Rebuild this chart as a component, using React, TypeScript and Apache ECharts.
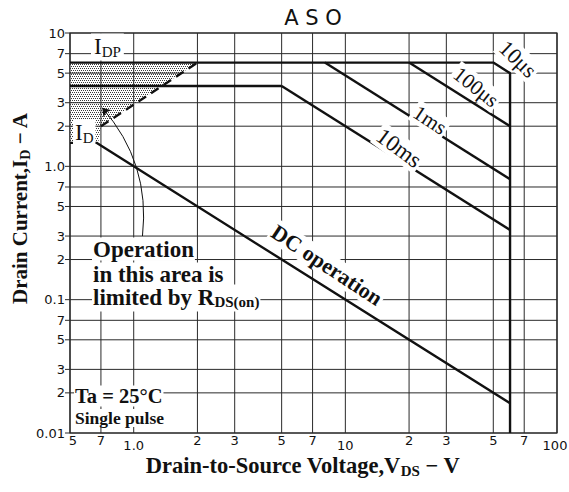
import React, { useEffect, useRef } from "react";
import * as echarts from "echarts";

// ---- data ----
const xTicks = [0.5, 0.7, 1, 2, 3, 5, 7, 10, 20, 30, 50, 70, 100];
const xTickLabels = ["5", "7", "1.0", "2", "3", "5", "7", "10", "2", "3", "5", "7", "100"];
const xTickIsDecade = [false, false, true, false, false, false, false, true, false, false, false, false, true];
const yTicks = [0.01, 0.02, 0.03, 0.05, 0.07, 0.1, 0.2, 0.3, 0.5, 0.7, 1, 2, 3, 5, 7, 10];
const yTickLabels = ["0.01", "2", "3", "5", "7", "0.1", "2", "3", "5", "7", "1.0", "2", "3", "5", "7", "10"];

const idpLine = [[0.5, 6], [50, 6], [60, 5], [60, 0.01]];
const idLine = [[0.5, 4], [5, 4]];
const us100Line = [[20, 6], [60, 2]];
const ms1Line = [[8, 6], [60, 0.8]];
const ms10Line = [[5, 4], [60, 0.333]];
const dcLine = [[0.5, 1.5], [0.667, 1.5], [60, 0.0167]];
const rdsLine = [[0.7, 2], [2, 6]];
const limitedArea = [[0.5, 6], [2, 6], [0.7, 2], [0.68, 1.5], [0.5, 1.5]];
const arrowPath = [[1.1, 0.3], [0.71, 2.75]];

const SERIF = "'Liberation Serif', 'Times New Roman', serif";
const SANS = "'DejaVu Sans', sans-serif";
const INK = "#111";

function makeDots() {
  const c = document.createElement("canvas");
  c.width = 4;
  c.height = 4;
  const g = c.getContext("2d")!;
  g.fillStyle = "#ffffff";
  g.fillRect(0, 0, 4, 4);
  g.fillStyle = "#3a3a3a";
  [[0, 0], [2, 0], [1, 2], [3, 2]].forEach(([a, b]) => g.fillRect(a, b, 1, 1));
  return { image: c.toDataURL(), repeat: "repeat", imageWidth: 4, imageHeight: 4 };
}

const measureCtx = document.createElement("canvas").getContext("2d")!;
function measure(text: string, size: number, weight: string, family: string) {
  measureCtx.font = `${weight} ${size}px ${family}`;
  return measureCtx.measureText(text).width;
}

function txt(x: number, y: number, text: string, opts: any = {}) {
  const align = opts.align || "center";
  return {
    type: "text",
    x,
    y,
    rotation: opts.rotation || 0,
    z: 100,
    silent: true,
    style: {
      text,
      align,
      textAlign: align,
      verticalAlign: "middle",
      textVerticalAlign: "middle",
      fontFamily: opts.family || SERIF,
      fontSize: opts.size || 20,
      fontWeight: opts.weight || "normal",
      fill: INK,
      backgroundColor: opts.bg === false ? undefined : "#fff",
      padding: opts.padding || [1, 2],
    },
  };
}

// text with subscripts: parts alternate main / subscript
function subLabel(x: number, y: number, parts: [string, boolean][], opts: any) {
  const size = opts.size;
  const subSize = opts.subSize;
  const weight = opts.weight || "normal";
  const widths = parts.map(([t, sub]) => measure(t, sub ? subSize : size, weight, SERIF));
  const total = widths.reduce((a, b) => a + b, 0);
  let cur = opts.align === "left" ? 0 : -total / 2;
  const start = cur;
  const shift = 0.28 * (size - subSize) + (opts.subDrop ?? 3.5);
  const children: any[] = [];
  if (opts.bg !== false) {
    const padX = opts.padX ?? 2;
    children.push({
      type: "rect",
      z: 100,
      shape: { x: start - padX, y: -size / 2 - 1, width: total + 2 * padX, height: size + 4 },
      style: { fill: "#fff" },
    });
  }
  parts.forEach(([t, sub], i) => {
    children.push({
      type: "text",
      z: 101,
      x: cur,
      y: sub ? shift : 0,
      style: {
        text: t,
        align: "left",
        textAlign: "left",
        verticalAlign: "middle",
        textVerticalAlign: "middle",
        fontFamily: SERIF,
        fontSize: sub ? subSize : size,
        fontWeight: weight,
        fill: INK,
      },
    });
    cur += widths[i];
  });
  return { type: "group", x, y, rotation: opts.rotation || 0, silent: true, z: 100, children };
}

function lineSeries(name: string, data: number[][], extra: any = {}) {
  return {
    name,
    type: "line",
    data,
    showSymbol: false,
    symbol: "none",
    silent: true,
    z: 3,
    lineStyle: { color: INK, width: 2.4, ...(extra.lineStyle || {}) },
  };
}

export default function App() {
  const ref = useRef<HTMLDivElement>(null);
  useEffect(() => {
    if (!ref.current) return;
    const chart = echarts.init(ref.current, null, { renderer: "svg" });
    const dots = makeDots();

    chart.setOption({
      animation: false,
      grid: { left: 70, right: 12, top: 33, bottom: 59, show: true, borderColor: INK, borderWidth: 1.2 },
      xAxis: {
        type: "log",
        logBase: 10,
        min: 0.5,
        max: 100,
        axisLine: { show: false },
        axisTick: { show: false },
        axisLabel: { show: false },
        splitLine: { show: false },
      },
      yAxis: {
        type: "log",
        logBase: 10,
        min: 0.01,
        max: 10,
        axisLine: { show: false },
        axisTick: { show: false },
        axisLabel: { show: false },
        splitLine: { show: false },
      },
      series: [
        {
          type: "custom",
          name: "limited-area",
          silent: true,
          z: 1,
          clip: false,
          data: [limitedArea[0]],
          renderItem: (_p: any, api: any) => ({
            type: "polygon",
            shape: { points: limitedArea.map((pt) => api.coord(pt)) },
            style: { fill: dots as any, stroke: "none" },
          }),
        },
        {
          type: "custom",
          name: "x-grid",
          silent: true,
          z: 2,
          clip: false,
          data: xTicks.map((v) => [v, 0.01]),
          renderItem: (params: any, api: any) => {
            const i = params.dataIndex;
            const v = api.value(0);
            const p0 = api.coord([v, 0.01]);
            const p1 = api.coord([v, 10]);
            return {
              type: "group",
              children: [
                {
                  type: "line",
                  shape: { x1: p0[0], y1: p0[1], x2: p1[0], y2: p1[1] },
                  style: { stroke: "#2a2a2a", lineWidth: 1 },
                },
                {
                  type: "text",
                  x: p0[0] + (i === 0 ? 3 : i === xTicks.length - 1 ? -2 : 0),
                  y: p0[1] + (xTickIsDecade[i] ? 6 : 1),
                  style: {
                    text: xTickLabels[i],
                    align: "center",
                    textAlign: "center",
                    verticalAlign: "top",
                    textVerticalAlign: "top",
                    fontFamily: SANS,
                    fontSize: 13,
                    fill: INK,
                  },
                },
              ],
            };
          },
        },
        {
          type: "custom",
          name: "y-grid",
          silent: true,
          z: 2,
          clip: false,
          data: yTicks.map((v) => [0.5, v]),
          renderItem: (params: any, api: any) => {
            const i = params.dataIndex;
            const v = api.value(1);
            const p0 = api.coord([0.5, v]);
            const p1 = api.coord([100, v]);
            return {
              type: "group",
              children: [
                {
                  type: "line",
                  shape: { x1: p0[0] - 5, y1: p0[1], x2: p1[0], y2: p1[1] },
                  style: { stroke: "#2a2a2a", lineWidth: 1 },
                },
                {
                  type: "text",
                  x: p0[0] - 5,
                  y: p0[1],
                  style: {
                    text: yTickLabels[i],
                    align: "right",
                    textAlign: "right",
                    verticalAlign: "middle",
                    textVerticalAlign: "middle",
                    fontFamily: SANS,
                    fontSize: 13,
                    fill: INK,
                  },
                },
              ],
            };
          },
        },
        lineSeries("IDP", idpLine),
        lineSeries("ID", idLine),
        lineSeries("100us", us100Line),
        lineSeries("1ms", ms1Line),
        lineSeries("10ms", ms10Line),
        lineSeries("DC", dcLine),
        lineSeries("RDS(on)", rdsLine, { lineStyle: { type: [9, 6], width: 2.4 } }),
        {
          type: "lines",
          name: "arrow",
          coordinateSystem: "cartesian2d",
          silent: true,
          z: 4,
          symbol: ["none", "arrow"],
          symbolSize: 8,
          lineStyle: { color: INK, width: 1, curveness: -0.22, opacity: 1 },
          data: [{ coords: arrowPath }],
        },
      ],
      graphic: [
        txt(313, 18, "A S O", { family: SANS, size: 21, bg: false, padding: 0 }),
        subLabel(94, 46, [["I", false], ["DP", true]], { align: "left", size: 23, subSize: 15, padX: 3 }),
        subLabel(75, 132, [["I", false], ["D", true]], { align: "left", size: 23, subSize: 15, padX: 2 }),
        txt(92, 249, "Operation", { align: "left", size: 23, weight: "bold", padding: [0, 1] }),
        txt(92, 274, "in this area is", { align: "left", size: 23, weight: "bold", padding: [0, 1] }),
        subLabel(93, 297, [["limited by R", false], ["DS(on)", true]], {
          align: "left",
          size: 23,
          subSize: 15,
          weight: "bold",
          subDrop: 3,
          padX: 1,
        }),
        txt(74, 396, "Ta = 25°C", { align: "left", size: 20.5, weight: "bold", padding: [0, 1] }),
        txt(74, 418, "Single pulse", { align: "left", size: 17.5, weight: "bold", padding: [0, 1] }),
        txt(327, 265, "DC operation", { size: 22, weight: "bold", rotation: -0.585 }),
        txt(399, 148, "10ms", { size: 23, rotation: -0.64 }),
        txt(430, 120, "1ms", { size: 21, rotation: -0.58 }),
        txt(476, 87, "100μs", { size: 21, rotation: -0.67 }),
        txt(518, 59, "10μs", { size: 22, rotation: -0.76 }),
        subLabel(303, 465, [["Drain-to-Source Voltage,V", false], ["DS", true], [" − V", false]], {
          size: 22.5,
          subSize: 15,
          weight: "bold",
          bg: false,
        }),
        subLabel(20, 208, [["Drain Current,I", false], ["D", true], [" − A", false]], {
          size: 21,
          subSize: 14,
          weight: "bold",
          rotation: Math.PI / 2,
          bg: false,
        }),
      ],
    });
    return () => chart.dispose();
  }, []);
  return (
    <div
      ref={ref}
      style={{ position: "fixed", left: 0, top: 0, width: 569, height: 492, background: "#fff" }}
    />
  );
}
